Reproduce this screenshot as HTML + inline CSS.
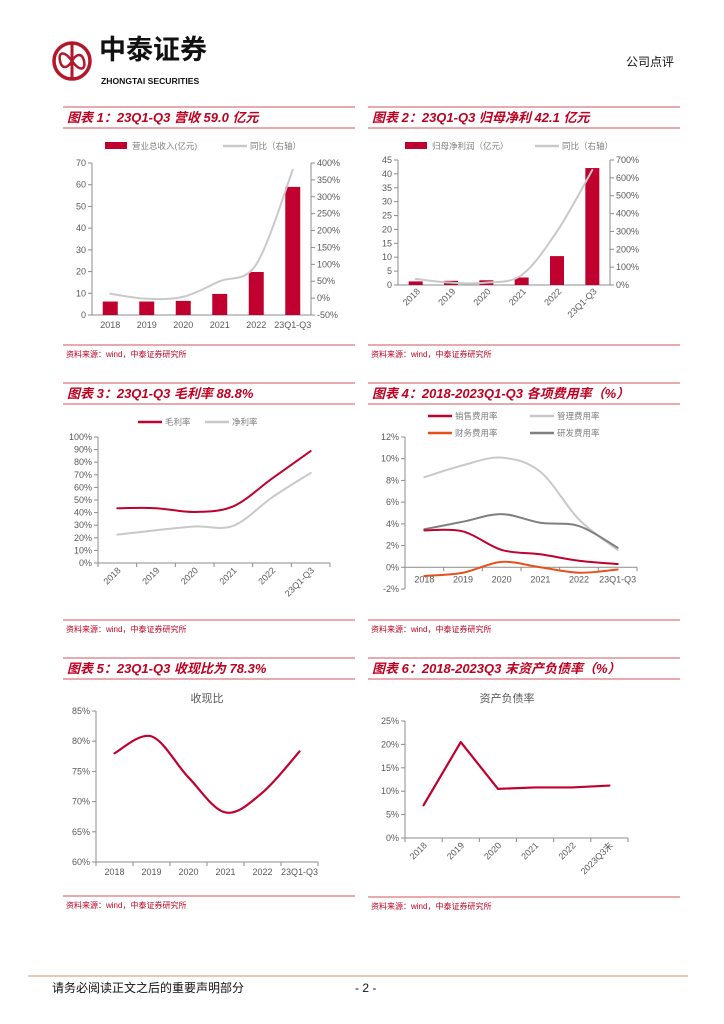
<!DOCTYPE html>
<html><head><meta charset="utf-8">
<style>
body{margin:0;background:#fff;}
#page{position:relative;width:724px;height:1024px;overflow:hidden;background:#fff;font-family:"Liberation Sans","Noto Sans CJK SC",sans-serif;}
.abs{position:absolute;}
</style></head>
<body>
<div id="page">
<svg id="charts" width="724" height="1024" style="position:absolute;left:0;top:0">
  <g>
    <circle cx="72" cy="61" r="18" fill="none" stroke="#b5172a" stroke-width="3.5"/>
    <line x1="72" y1="43" x2="72" y2="79" stroke="#b5172a" stroke-width="3"/>
    <path d="M72 61 C64 50 58 52 60 61 C62 70 68 68 72 61 C76 54 82 52 84 61 C86 70 80 72 72 61" fill="none" stroke="#b5172a" stroke-width="2.5"/>
  </g>
  <text x="99" y="59" font-size="27" font-weight="bold" fill="#111" font-family="Liberation Sans, Noto Sans CJK SC, sans-serif">中泰证券</text>
  <text x="101" y="84" font-size="8.6" font-weight="bold" fill="#111" font-family="Liberation Sans, sans-serif">ZHONGTAI SECURITIES</text>
  <text x="626" y="66" font-size="12" fill="#111" font-family="Liberation Sans, Noto Sans CJK SC, sans-serif">公司点评</text>
  <line x1="28" y1="976" x2="688" y2="976" stroke="#e8c9b8" stroke-width="2"/>
  <text x="52" y="992" font-size="12" fill="#111" font-family="Liberation Sans, Noto Sans CJK SC, sans-serif">请务必阅读正文之后的重要声明部分</text>
  <text x="355" y="992" font-size="12" fill="#111" font-family="Liberation Sans, sans-serif">- 2 -</text>
</svg>
</div>
<script>
// ---------- data ----------
const years = ['2018','2019','2020','2021','2022','23Q1-Q3'];
const revenue = [6.2, 6.2, 6.5, 9.7, 19.8, 59.0];
const revenueYoY = [13, -2, 4, 50, 100, 380];
const rev1Ticks = [0,10,20,30,40,50,60,70];
const rev1RTicks = [-50,0,50,100,150,200,250,300,350,400];
const netProfit = [1.3, 1.5, 1.7, 2.7, 10.4, 42.1];
const netProfitYoY = [34, 13, 13, 56, 300, 644];
const np2Ticks = [0,5,10,15,20,25,30,35,40,45];
const np2RTicks = [0,100,200,300,400,500,600,700];
const grossMargin = [43.5, 43.5, 40.5, 45, 67, 88.8];
const netMargin = [22.5, 26, 29, 29.5, 52, 71.5];
const margin3Ticks = [0,10,20,30,40,50,60,70,80,90,100];
const salesRate = [3.4, 3.3, 1.6, 1.2, 0.6, 0.3];
const adminRate = [8.3, 9.4, 10.1, 8.8, 4.4, 1.6];
const financeRate = [-0.8, -0.5, 0.5, 0.0, -0.5, -0.2];
const rdRate = [3.5, 4.2, 4.9, 4.1, 3.8, 1.8];
const exp4Ticks = [-2,0,2,4,6,8,10,12];
const cashRatio = [78.0, 80.8, 74.0, 68.2, 71.5, 78.3];
const cash5Ticks = [60,65,70,75,80,85];
const debtYears = ['2018','2019','2020','2021','2022','2023Q3末'];
const debtRatio = [7.0, 20.5, 10.5, 10.8, 10.8, 11.2];
const debt6Ticks = [0,5,10,15,20,25];

// ---------- helpers ----------
const NS='http://www.w3.org/2000/svg';
const svg=document.getElementById('charts');
const FONT='Liberation Sans, Noto Sans CJK SC, sans-serif';
const RED='#c0002e', LGRAY='#c9c9c9', DGRAY='#7f7f7f', ORANGE='#e8501a', AX='#8c8c8c', TXT='#595959';
function mk(tag,attrs,parent){const e=document.createElementNS(NS,tag);for(const k in attrs)e.setAttribute(k,attrs[k]);(parent||svg).appendChild(e);return e;}
function txt(x,y,s,attrs,parent){const t=mk('text',Object.assign({x:x,y:y,'font-size':9,fill:TXT,'font-family':FONT},attrs||{}),parent);t.textContent=s;return t;}
function lin(d0,d1,r0,r1){return v=>r0+(v-d0)/(d1-d0)*(r1-r0);}
function band(x0,x1,n){const w=(x1-x0)/n;return i=>x0+w*(i+0.5);}
function smooth(p){let d='M'+p[0][0]+','+p[0][1];for(let i=0;i<p.length-1;i++){const a=p[Math.max(0,i-1)],b=p[i],c=p[i+1],e=p[Math.min(p.length-1,i+2)];const c1=[b[0]+(c[0]-a[0])/6,b[1]+(c[1]-a[1])/6],c2=[c[0]-(e[0]-b[0])/6,c[1]-(e[1]-b[1])/6];d+=' C'+c1+' '+c2+' '+c[0]+','+c[1];}return d;}
function straight(p){return 'M'+p.map(q=>q.join(',')).join(' L');}

function panel(x0,x1,yTop,title,ySrc,name){
  const g=mk('g',{});
  
  
  mk('line',{x1:x0,y1:yTop,x2:x1,y2:yTop,stroke:'#d2555f','stroke-width':1},g);
  const t=txt(x0+4,yTop+15,title,{'font-size':13,'font-weight':'bold','font-style':'italic',fill:'#c00020'},g);
  
  
  mk('line',{x1:x0,y1:yTop+21,x2:x1,y2:yTop+21,stroke:'#d2555f','stroke-width':1},g);
  if(ySrc){
    mk('line',{x1:x0,y1:ySrc,x2:x1,y2:ySrc,stroke:'#d2555f','stroke-width':1},g);
    const s=txt(x0+3,ySrc+12,'资料来源：wind，中泰证券研究所',{'font-size':8,fill:'#c00020'},g);
    
    
  }
  return g;
}
function yAxis(g,x,ys,ticks,fmt,side){
  mk('line',{x1:x,y1:ys(ticks[ticks.length-1]),x2:x,y2:ys(ticks[0]),stroke:AX,'stroke-width':1},g);
  ticks.forEach(v=>{
    const y=ys(v);
    mk('line',{x1:x,y1:y,x2:side==='r'?x+4:x-4,y2:y,stroke:AX},g);
    const t=txt(side==='r'?x+6:x-6,y+3,fmt(v),{'text-anchor':side==='r'?'start':'end'},g);
    
    
  });
}
function xAxis(g,x0,x1,y,n,labels,xs,rot,ly){
  mk('line',{x1:x0,y1:y,x2:x1,y2:y,stroke:AX,'stroke-width':1},g);
  const w=(x1-x0)/n;
  for(let i=0;i<=n;i++) mk('line',{x1:x0+w*i,y1:y,x2:x0+w*i,y2:y+4,stroke:AX},g);
  labels.forEach((s,i)=>{
    let t;
    if(rot){const cx=xs(i)+4,cy=(ly||y)+8;t=txt(cx,cy,s,{'text-anchor':'end',transform:'rotate(-45 '+cx+' '+cy+')'},g);}
    else t=txt(xs(i),(ly||y)+13,s,{'text-anchor':'middle'},g);
    
    
  });
}
function series(g,xs,ys,vals,color,w,name,isStraight){
  const pts=vals.map((v,i)=>[xs(i),ys(v)]);
  const p=mk('path',{d:isStraight?straight(pts):smooth(pts),fill:'none',stroke:color,'stroke-width':w,'stroke-linejoin':'round','stroke-linecap':'round'},g);
  
  
}
function legend(g,x,y,label,color,kind){
  if(kind==='bar') mk('rect',{x:x,y:y-4,width:22,height:7,fill:color},g);
  else mk('line',{x1:x,y1:y,x2:x+24,y2:y,stroke:color,'stroke-width':2.5},g);
  const t=txt(x+27,y+3,label,{'font-size':8.5,fill:'#7f7f7f'},g);
  
  
}

// ---------- Chart 1 ----------
{
  const g=panel(63,355,107,'图表 1：23Q1-Q3 营收 59.0 亿元',345,'chart-revenue');
  const ys=lin(0,70,315,163), yr=lin(-50,400,315,163), xs=band(92,311,6);
  yAxis(g,92,ys,rev1Ticks,v=>v,'l');
  yAxis(g,311,yr,rev1RTicks,v=>v+'%','r');
  mk('line',{x1:92,y1:315,x2:311,y2:315,stroke:AX},g);
  years.forEach((s,i)=>{const t=txt(xs(i),328,s,{'text-anchor':'middle'},g);});
  revenue.forEach((v,i)=>{const r=mk('rect',{x:xs(i)-7.5,y:ys(v),width:15,height:ys(0)-ys(v),fill:RED},g);});
  series(g,xs,yr,revenueYoY,LGRAY,2,'line-revenue-yoy');
  legend(g,105,146,'营业总收入(亿元)','#c0002e','bar');
  legend(g,223,146,'同比（右轴）',LGRAY,'line');
}
// ---------- Chart 2 ----------
{
  const g=panel(368,680,107,'图表 2：23Q1-Q3 归母净利 42.1 亿元',345,'chart-net-profit');
  const ys=lin(0,45,285,160), yr=lin(0,700,285,160), xs=band(398,610,6);
  yAxis(g,398,ys,np2Ticks,v=>v,'l');
  yAxis(g,610,yr,np2RTicks,v=>v+'%','r');
  mk('line',{x1:398,y1:285,x2:610,y2:285,stroke:AX},g);
  years.forEach((s,i)=>{const cx=xs(i)+5,cy=292;const t=txt(cx,cy,s,{'text-anchor':'end',transform:'rotate(-45 '+cx+' '+cy+')'},g);});
  netProfit.forEach((v,i)=>{const r=mk('rect',{x:xs(i)-7,y:ys(v),width:14,height:ys(0)-ys(v),fill:RED},g);});
  series(g,xs,yr,netProfitYoY,LGRAY,2,'line-net-profit-yoy');
  legend(g,405,146,'归母净利润（亿元）','#c0002e','bar');
  legend(g,535,146,'同比（右轴）',LGRAY,'line');
}
// ---------- Chart 3 ----------
{
  const g=panel(63,355,383,'图表 3：23Q1-Q3 毛利率 88.8%',620,'chart-margins');
  const ys=lin(0,100,563,437), xs=band(98,330,6);
  yAxis(g,98,ys,margin3Ticks,v=>v+'%','l');
  xAxis(g,98,330,563,6,years,xs,true);
  series(g,xs,ys,netMargin,LGRAY,2,'line-net-margin');
  series(g,xs,ys,grossMargin,RED,2,'line-gross-margin');
  legend(g,138,422,'毛利率',RED,'line');
  legend(g,205,422,'净利率',LGRAY,'line');
}
// ---------- Chart 4 ----------
{
  const g=panel(368,680,383,'图表 4：2018-2023Q1-Q3 各项费用率（%）',620,'chart-expense-rates');
  const ys=lin(-2,12,589,437), xs=band(405,637,6);
  yAxis(g,405,ys,exp4Ticks,v=>v+'%','l');
  xAxis(g,405,637,ys(0),6,years,xs,false,ys(0)+2);
  series(g,xs,ys,adminRate,LGRAY,2,'line-admin-rate');
  series(g,xs,ys,rdRate,DGRAY,2,'line-rd-rate');
  series(g,xs,ys,salesRate,RED,2,'line-sales-rate');
  series(g,xs,ys,financeRate,ORANGE,2,'line-finance-rate');
  legend(g,428,416,'销售费用率',RED,'line');
  legend(g,530,416,'管理费用率',LGRAY,'line');
  legend(g,428,433,'财务费用率',ORANGE,'line');
  legend(g,530,433,'研发费用率',DGRAY,'line');
}
// ---------- Chart 5 ----------
{
  const g=panel(63,355,658,'图表 5：23Q1-Q3 收现比为 78.3%',896,'chart-cash-ratio');
  const ys=lin(60,85,862,711), xs=band(96,318,6);
  const ct=txt(207,702,'收现比',{'text-anchor':'middle','font-size':11,fill:'#595959'},g);
  
  
  yAxis(g,96,ys,cash5Ticks,v=>v+'%','l');
  xAxis(g,96,318,862,6,years,xs,false);
  series(g,xs,ys,cashRatio,RED,2.2,'line-cash-ratio');
}
// ---------- Chart 6 ----------
{
  const g=panel(368,680,658,'图表 6：2018-2023Q3 末资产负债率（%）',897,'chart-debt-ratio');
  const ys=lin(0,25,838,721), xs=band(405,628,6);
  const ct=txt(507,702,'资产负债率',{'text-anchor':'middle','font-size':11,fill:'#595959'},g);
  
  
  yAxis(g,405,ys,debt6Ticks,v=>v+'%','l');
  xAxis(g,405,628,838,6,debtYears,xs,true);
  series(g,xs,ys,debtRatio,RED,2.2,'line-debt-ratio',true);
}
</script>
</body></html>
